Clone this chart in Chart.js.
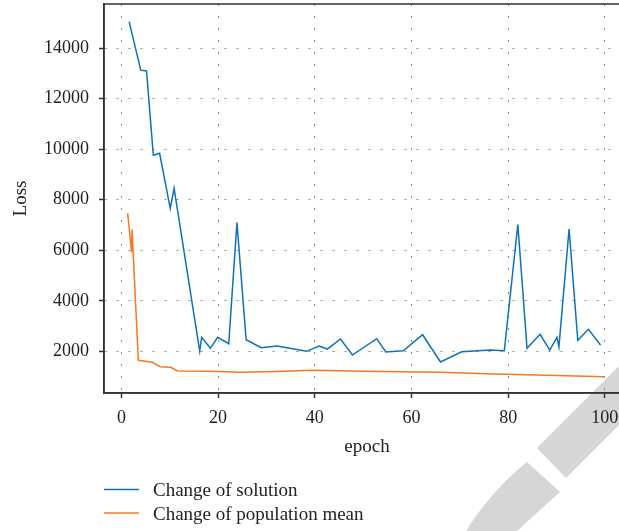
<!DOCTYPE html>
<html>
<head>
<meta charset="utf-8">
<script src="https://cdn.jsdelivr.net/npm/chart.js@4/dist/chart.umd.min.js"></script>
<style>
  html, body { margin: 0; padding: 0; background: #fff; overflow: hidden; }
  #wrap { position: relative; width: 619px; height: 531px; overflow: hidden; background: #fff; }
  #wm { position: absolute; left: 0; top: 0; }
  canvas { display: block; position: absolute; left: 0; top: 0; }
</style>
</head>
<body>
<div id="wrap">
  <svg id="wm" width="619" height="531" aria-hidden="true">
    <polygon points="537,448 619,366 619,425 566,478" fill="#d6d6d6"/>
    <path d="M527,462 L560,492 L517,531 L466,531 Q490,492 527,462 Z" fill="#d6d6d6"/>
  </svg>
  <canvas id="c" width="630" height="531"></canvas>
</div>
<script>
// ---- data ----
const seriesLabels = ['Change of solution', 'Change of population mean'];

const solutionEpochs = [1.6, 4.0, 5.2, 6.6, 7.9, 10.1, 10.9, 16.2, 16.6, 18.4, 19.9, 22.2, 23.9, 25.8, 28.9,
  32.2, 38.3, 40.9, 42.6, 45.3, 47.8, 52.8, 54.7, 58.3, 62.3, 66.0, 70.4, 76.3, 79.2, 82.0,
  83.9, 86.6, 88.6, 90.1, 90.5, 92.6, 94.4, 96.6, 99.1];
const solutionLoss = [15050, 13130, 13100, 9760, 9840, 7660, 8455, 2010, 2554, 2119, 2554, 2300, 7093, 2460, 2143,
  2210, 2000, 2210, 2090, 2487, 1853, 2500, 1972, 2024, 2657, 1576, 1984, 2051, 2024, 7014,
  2119, 2673, 2051, 2554, 2182, 6843, 2436, 2871, 2250];

const meanEpochs = [1.3, 2.1, 2.2, 3.5, 6.4, 8.0, 10.2, 11.6, 18.3, 24.5, 32.0, 39.7, 50.0, 65.9, 77.0, 88.0, 99.9];
const meanLoss = [7465, 5920, 6832, 1643, 1564, 1390, 1366, 1220, 1208, 1168, 1200, 1248, 1215, 1168, 1105, 1050, 995];

const xTicks = [0, 20, 40, 60, 80, 100];
const yTicks = [2000, 4000, 6000, 8000, 10000, 12000, 14000];

const toPoints = (xs, ys) => xs.map((x, i) => ({ x: x, y: ys[i] }));

const frame = {
  id: 'frame',
  afterDatasetsDraw(chart) {
    const a = chart.chartArea, ctx = chart.ctx;
    ctx.save();
    ctx.strokeStyle = '#333';
    ctx.lineWidth = 1.5;
    ctx.strokeRect(a.left, a.top, a.right - a.left, a.bottom - a.top);
    ctx.restore();
  }
};

const bottomLegend = {
  id: 'bottomLegend',
  afterDraw(chart) {
    const ctx = chart.ctx;
    const a = chart.chartArea;
    ctx.save();
    ctx.font = '19px "Liberation Serif", serif';
    ctx.textBaseline = 'alphabetic';
    ctx.textAlign = 'left';
    chart.data.datasets.forEach((ds, i) => {
      const yLine = 489.5 + i * 23.4;
      ctx.strokeStyle = ds.borderColor;
      ctx.lineWidth = 1.5;
      ctx.beginPath();
      ctx.moveTo(a.left, yLine);
      ctx.lineTo(a.left + 35, yLine);
      ctx.stroke();
      ctx.fillStyle = '#222';
      ctx.fillText(ds.label, a.left + 49, yLine + 6.6);
    });
    ctx.restore();
  }
};

const serif = '"Liberation Serif", "Times New Roman", serif';
const gridOpts = { color: '#8c8c8c', lineWidth: 1, drawTicks: true, tickLength: 5,
                   tickColor: '#333', tickWidth: 1.5, tickBorderDash: [] };
const borderOpts = { display: true, color: '#333', width: 1.5, dash: [2, 10] };

new Chart(document.getElementById('c'), {
  type: 'line',
  data: {
    datasets: [
      { label: seriesLabels[0], data: toPoints(solutionEpochs, solutionLoss),
        borderColor: '#0c72ba', borderWidth: 1.5, pointRadius: 0, tension: 0, fill: false },
      { label: seriesLabels[1], data: toPoints(meanEpochs, meanLoss),
        borderColor: '#f47a20', borderWidth: 1.5, pointRadius: 0, tension: 0, fill: false }
    ]
  },
  options: {
    responsive: false,
    animation: false,
    devicePixelRatio: 1,
    layout: { padding: { top: 4, bottom: 58, left: 0, right: 0 } },
    plugins: { legend: { display: false }, tooltip: { enabled: false } },
    scales: {
      x: {
        type: 'linear',
        min: -3.6, max: 105.2,
        ticks: { padding: 9, color: '#222', font: { family: serif, size: 18 }, maxRotation: 0 },
        afterBuildTicks(scale) { scale.ticks = xTicks.map(v => ({ value: v })); },
        grid: gridOpts,
        border: borderOpts,
        title: { display: true, text: 'epoch', color: '#222', font: { family: serif, size: 19 },
                 padding: { top: 0, bottom: 15 } },
        afterFit(scale) { scale.height = 80; scale.paddingLeft = 0; scale.paddingRight = 0; }
      },
      y: {
        type: 'linear',
        min: 350, max: 15750,
        ticks: { padding: 10, color: '#222', font: { family: serif, size: 18 },
                 callback: v => String(v) },
        afterBuildTicks(scale) { scale.ticks = yTicks.map(v => ({ value: v })); },
        grid: gridOpts,
        border: borderOpts,
        title: { display: true, text: 'Loss', color: '#222', font: { family: serif, size: 19 },
                 padding: { top: 9.5, bottom: 0 } },
        afterFit(scale) { scale.width = 104; scale.paddingTop = 0; scale.paddingBottom = 0; }
      }
    }
  },
  plugins: [frame, bottomLegend]
});
</script>
</body>
</html>
